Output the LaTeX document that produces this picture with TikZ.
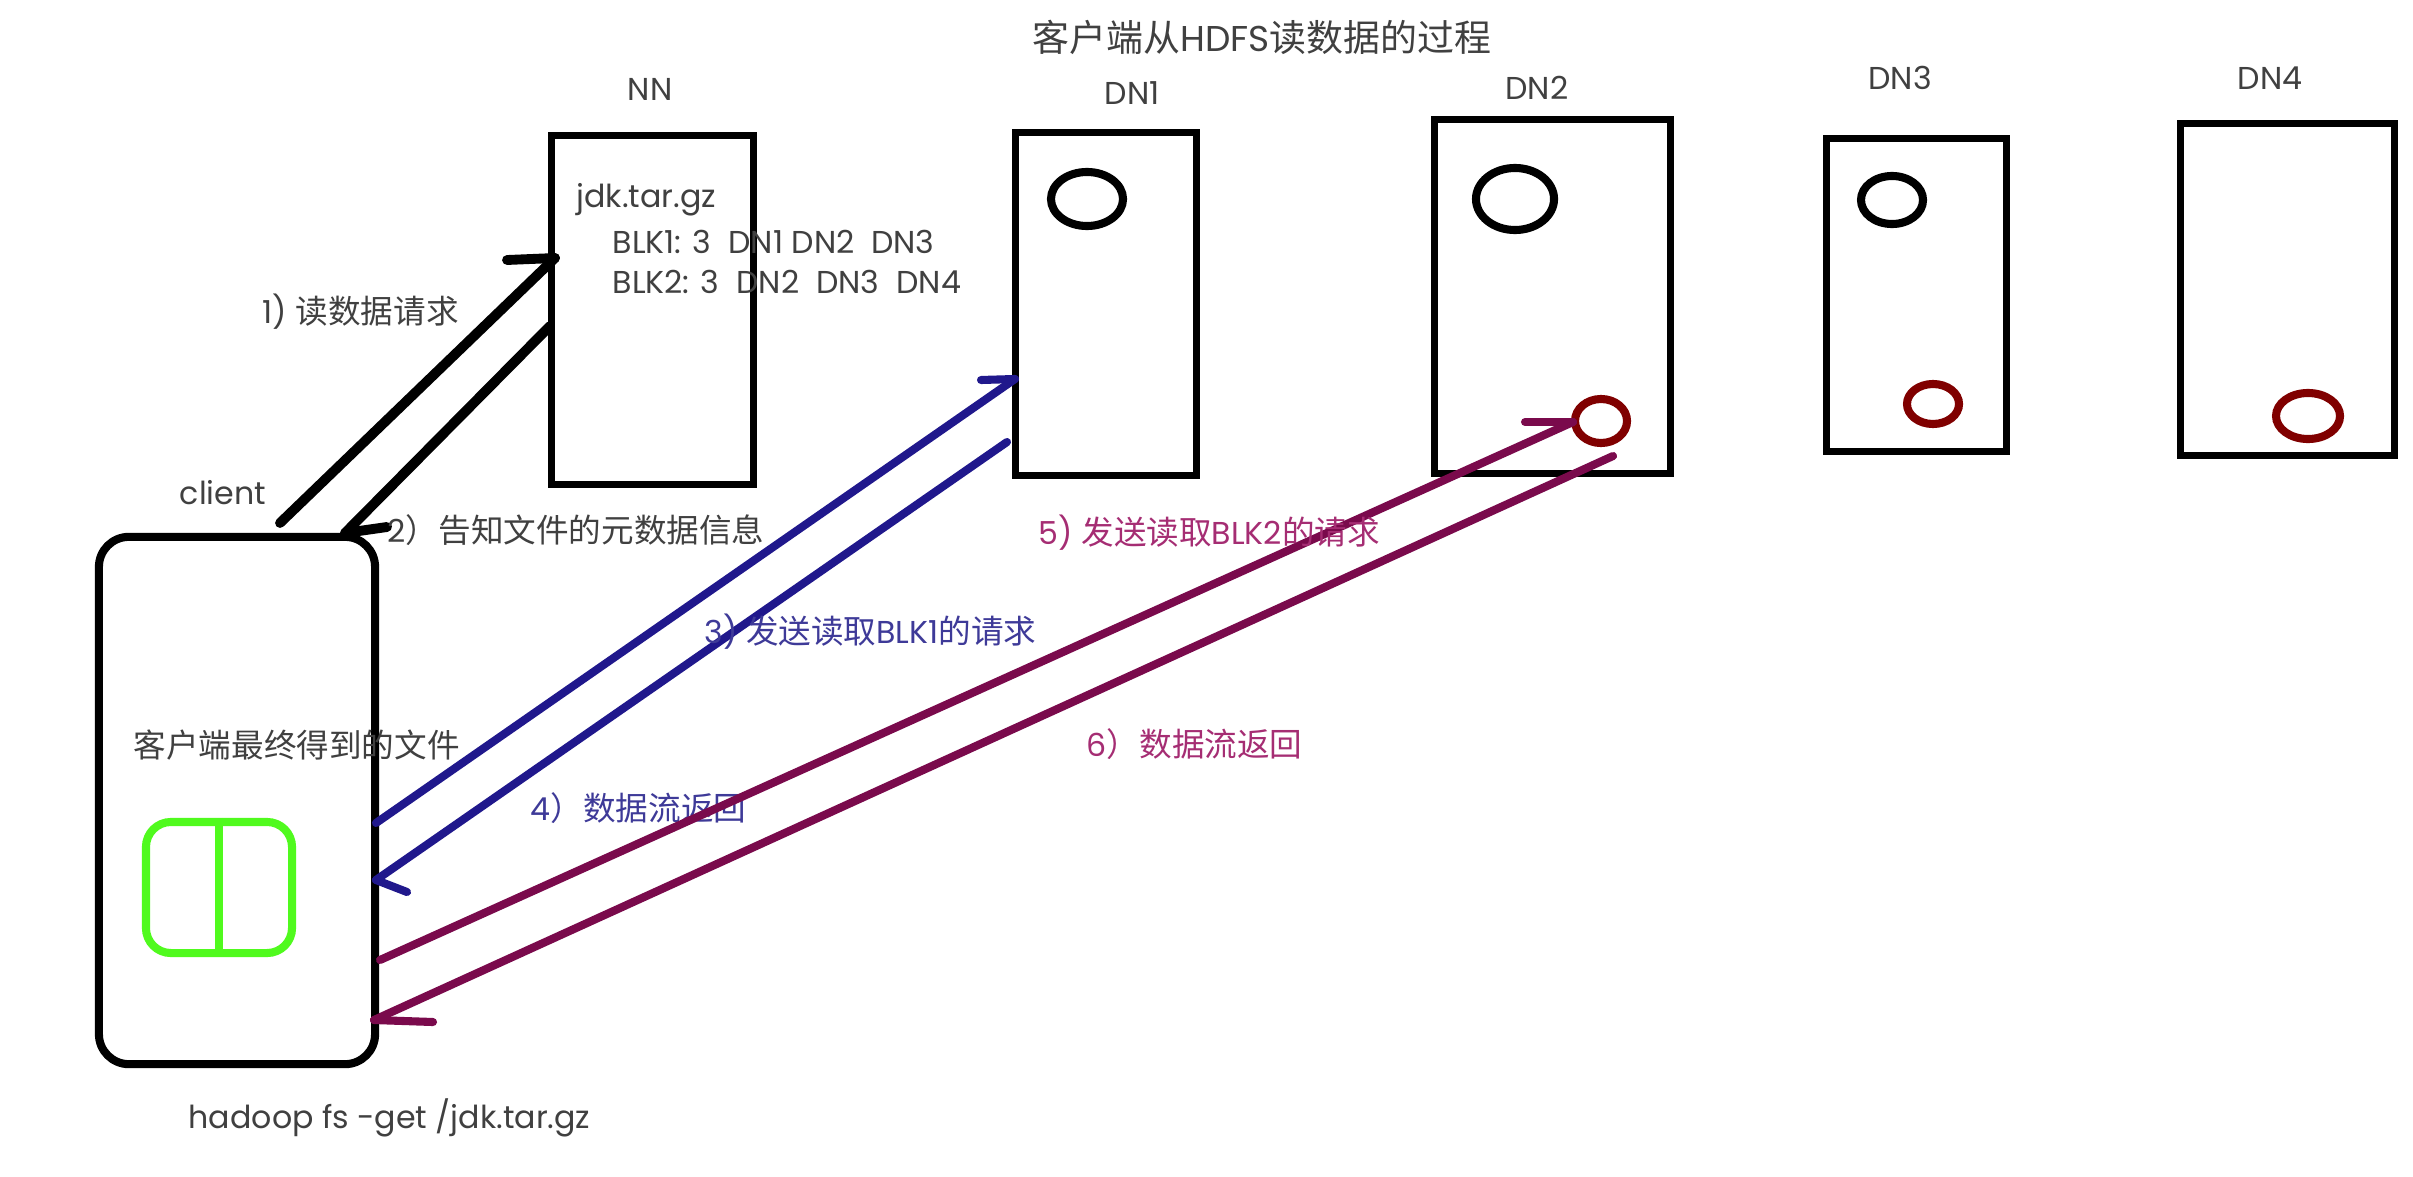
\documentclass[tikz,border=0pt]{standalone}
\usepackage{fontspec}
\setmainfont{Poppins}
\newfontfamily\zhfont[Scale=1.03]{Noto Sans CJK SC}
\newcommand{\zh}[1]{{\zhfont #1}}
\usetikzlibrary{shapes.geometric,calc}
\definecolor{txtgray}{RGB}{64,64,64}
\definecolor{navy}{RGB}{32,24,140}
\definecolor{navytxt}{RGB}{62,58,152}
\definecolor{plum}{RGB}{122,10,76}
\definecolor{plumtxt}{RGB}{165,45,115}
\definecolor{blkred}{RGB}{128,0,0}
\definecolor{lime}{RGB}{80,250,30}

\begin{document}
\begin{tikzpicture}[x=0.01cm,y=-0.01cm,
    lbl/.style={inner sep=0pt,text=txtgray,font=\fontsize{9}{11}\selectfont},
    srv/.style={draw,line width=2pt,inner sep=0pt},
    blk/.style={draw,ellipse,line width=2.3pt,inner sep=0pt},
    msg/.style={line width=2.8pt,line cap=round}]
\useasboundingbox (0,0) rectangle (2413,1176);

% Title
\node[lbl,font=\fontsize{10.2}{12}\selectfont] (title) at (1262,37) {\zh{客户端从}HDFS\zh{读数据的过程}};

% NN with metadata
\node[srv,minimum width=2.01cm,minimum height=3.48cm] (nn) at (652.5,310) {};
\node[lbl] (nnlbl) at (650,89) {NN};
\node[lbl,anchor=west] (meta) at (576,200) {jdk.tar.gz};
\node[lbl,anchor=west] (blk1) at (612,242) {BLK1: 3\ \ DN1 DN2\ \ DN3};
\node[lbl,anchor=west] (blk2) at (612,282) {BLK2: 3\ \ DN2\ \ DN3\ \ DN4};

% DataNodes
\node[srv,minimum width=1.80cm,minimum height=3.42cm] (dn1) at (1106,304) {};
\node[srv,minimum width=2.35cm,minimum height=3.53cm] (dn2) at (1552.5,296.5) {};
\node[srv,minimum width=1.79cm,minimum height=3.12cm] (dn3) at (1916.5,295) {};
\node[srv,minimum width=2.13cm,minimum height=3.31cm] (dn4) at (2287.5,289.5) {};
\node[lbl] (dn1lbl) at (1132,93) {DN1};
\node[lbl] (dn2lbl) at (1537,88) {DN2};
\node[lbl] (dn3lbl) at (1900,78) {DN3};
\node[lbl] (dn4lbl) at (2270,78) {DN4};

% Blocks: BLK1 black, BLK2 red
\node[blk,minimum width=0.72cm,minimum height=0.54cm] (b1a) at (1087,199) {};
\node[blk,minimum width=0.78cm,minimum height=0.62cm] (b1b) at (1515,199) {};
\node[blk,minimum width=0.62cm,minimum height=0.48cm] (b1c) at (1892,200) {};
\node[blk,draw=blkred,minimum width=0.52cm,minimum height=0.44cm] (b2a) at (1601,421) {};
\node[blk,draw=blkred,minimum width=0.52cm,minimum height=0.40cm] (b2b) at (1933,404) {};
\node[blk,draw=blkred,minimum width=0.64cm,minimum height=0.46cm] (b2c) at (2308,416) {};

% Client
\node[draw,line width=2.3pt,rounded corners=0.3cm,minimum width=2.76cm,minimum height=5.27cm] (client) at (237,800.5) {};
\node[lbl] (clientlbl) at (223,493) {client};
\node[lbl,anchor=west] (filelbl) at (133,745) {\zh{客户端最终得到的文件}};
\node[draw=lime,line width=2.3pt,rounded corners=0.25cm,minimum width=1.46cm,minimum height=1.31cm] (file) at (219,887.5) {};
\draw[lime,line width=2.3pt] (file.north) -- (file.south);
\node[lbl,anchor=west] (cmd) at (188,1118) {hadoop fs -get /jdk.tar.gz};

% 1) and 2): client <-> NN
\coordinate (r1s) at (280,523);
\coordinate (r1e) at (555,258);
\draw[msg] (r1s) -- (r1e);
\draw[msg] (r1e) -- ++(-48,2);
\coordinate (r2s) at (550,326);
\coordinate (r2e) at (345,533);
\draw[msg] (r2s) -- (r2e);
\draw[msg] (r2e) -- ++(42,-6);
\node[lbl,anchor=west] (m1) at (262,312) {1) \zh{读数据请求}};
\node[lbl,anchor=west] (m2) at (387,530) {2\zh{）告知文件的元数据信息}};

% 3) and 4): client <-> DN1
\coordinate (r3s) at (376,823);
\coordinate (r3e) at (1015,379);
\draw[msg,navy,line width=2.3pt] (r3s) -- (r3e);
\draw[msg,navy,line width=2.3pt] (r3e) -- ++(-34,1);
\coordinate (r4s) at (1007,442);
\coordinate (r4e) at (376,880);
\draw[msg,navy,line width=2.3pt] (r4s) -- (r4e);
\draw[msg,navy,line width=2.3pt] (r4e) -- ++(31,12);
\node[lbl,anchor=west,text=navytxt] (m3) at (704,632) {3) \zh{发送读取}BLK1\zh{的请求}};
\node[lbl,anchor=west,text=navytxt] (m4) at (530,808) {4\zh{）数据流返回}};

% 5) and 6): client <-> DN2
\coordinate (r5s) at (380,960);
\coordinate (r5e) at (1573,422);
\draw[msg,plum,line width=2.3pt] (r5s) -- (r5e);
\draw[msg,plum,line width=2.3pt] (r5e) -- ++(-48,0);
\coordinate (r6s) at (1613,456);
\coordinate (r6e) at (374,1020);
\draw[msg,plum,line width=2.3pt] (r6s) -- (r6e);
\draw[msg,plum,line width=2.3pt] (r6e) -- ++(59,2);
\node[lbl,anchor=west,text=plumtxt] (m5) at (1038,533) {5) \zh{发送读取}BLK2\zh{的请求}};
\node[lbl,anchor=west,text=plumtxt] (m6) at (1086,744) {6\zh{）数据流返回}};
\end{tikzpicture}
\end{document}
